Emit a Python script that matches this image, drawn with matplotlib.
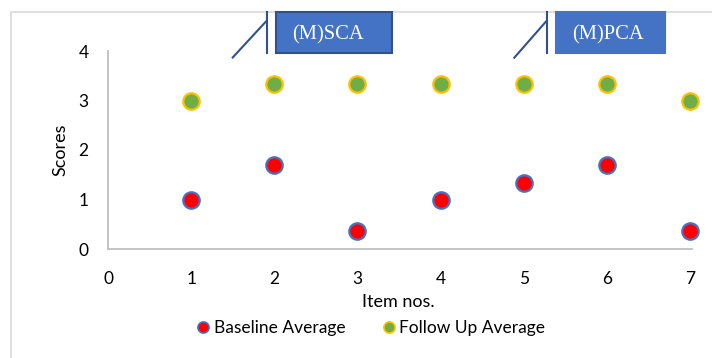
import matplotlib
matplotlib.use("Agg")
import matplotlib.pyplot as plt
from matplotlib.patches import Rectangle
from matplotlib.lines import Line2D

# Data
items = [1, 2, 3, 4, 5, 6, 7]
baseline_avg = [1.0, 1.7, 0.37, 1.0, 1.33, 1.7, 0.37]
follow_up_avg = [3.0, 3.33, 3.33, 3.33, 3.33, 3.33, 3.0]
x_ticks = [0, 1, 2, 3, 4, 5, 6, 7]
y_ticks = [0, 1, 2, 3, 4]
callouts = ["(M)SCA", "(M)PCA"]

W, H = 712, 358
FONT = "Lato"
GRID = "#BFBFBF"

fig = plt.figure(figsize=(W / 100, H / 100), dpi=100)


def fx(px):
    return px / W


def fy(py):
    return 1 - py / H


# chart area border
fig.patches.append(Rectangle((fx(11), fy(400)), fx(760), fy(12) - fy(400),
                             transform=fig.transFigure, fill=False,
                             edgecolor="#D9D9D9", linewidth=1.2))

ax = fig.add_axes([fx(108), fy(249), fx(690) - fx(108), fy(51) - fy(249)])
ax.set_xlim(0, 7)
ax.set_ylim(0, 4)
ax.set_xticks(x_ticks)
ax.set_yticks(y_ticks)
for s in ["top", "right"]:
    ax.spines[s].set_visible(False)
for s in ["left", "bottom"]:
    ax.spines[s].set_color(GRID)
    ax.spines[s].set_linewidth(1.3)
ax.spines["bottom"].set_bounds(0, 7.03)
ax.tick_params(length=0, labelsize=12.5, labelcolor="#000000")
ax.tick_params(axis="x", pad=16)
ax.tick_params(axis="y", pad=14)
for lab in ax.get_xticklabels() + ax.get_yticklabels():
    lab.set_fontfamily(FONT)

ax.scatter(items, baseline_avg, s=140, c="#FF0000", edgecolors="#4472C4",
           linewidths=1.6, zorder=3, clip_on=False)
ax.scatter(items, follow_up_avg, s=140, c="#70AD47", edgecolors="#FFC000",
           linewidths=1.6, zorder=3, clip_on=False)

ax.set_ylabel("Scores", fontsize=13, fontfamily=FONT, labelpad=7)
fig.text(fx(398), fy(302), "Item nos.", fontsize=13, fontfamily=FONT,
         ha="center", va="center")

handles = [
    Line2D([], [], linestyle="none", marker="o", markersize=8,
           markerfacecolor="#FF0000", markeredgecolor="#4472C4", markeredgewidth=1.2),
    Line2D([], [], linestyle="none", marker="o", markersize=8,
           markerfacecolor="#70AD47", markeredgecolor="#FFC000", markeredgewidth=1.2),
]
fig.legend(handles, ["Baseline Average", "Follow Up Average"], ncol=2,
           loc="center", bbox_to_anchor=(fx(370), fy(328)), frameon=False,
           prop={"family": FONT, "size": 12.5}, handletextpad=0.1,
           columnspacing=2.0, handlelength=1.0)

# callout boxes with leader lines
boxes = [
    (callouts[0], 276, 392, 266.7, (232.7, 57.5), "#2F528F"),
    (callouts[1], 556, 665, 546.7, (514.3, 57.7), "#4472C4"),
]
for text, x0, x1, vx, tail, edge in boxes:
    fig.patches.append(Rectangle((fx(x0), fy(53)), fx(x1) - fx(x0), fy(12) - fy(53),
                                 transform=fig.transFigure, facecolor="#4472C4",
                                 edgecolor=edge, linewidth=1.5, zorder=5))
    fig.lines.append(Line2D([fx(vx), fx(vx)], [fy(12), fy(53)],
                            transform=fig.transFigure, color="#2F528F", linewidth=1.5))
    fig.lines.append(Line2D([fx(tail[0]), fx(vx)], [fy(tail[1]), fy(20.7)],
                            transform=fig.transFigure, color="#2F528F", linewidth=1.5))
    fig.text(fx(x0 + 16), fy(39.5), text, color="white", fontsize=14.8,
             fontfamily="Liberation Serif", ha="left", va="baseline", zorder=6)

fig.savefig("out.png", dpi=100)
